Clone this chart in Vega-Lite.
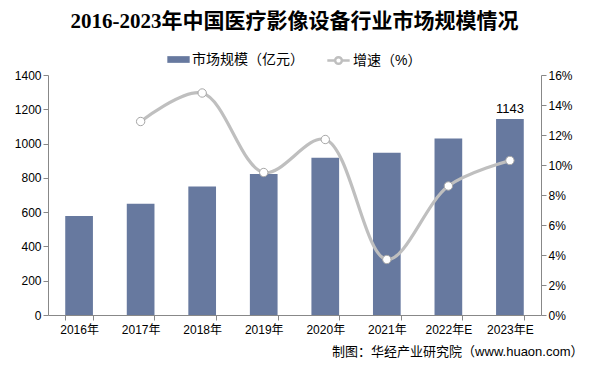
{
  "$schema": "https://vega.github.io/schema/vega-lite/v6.json",
  "width": 595,
  "height": 373,
  "autosize": {"type": "fit", "contains": "padding"},
  "padding": {"left": 14, "right": 22, "top": 11, "bottom": 15},
  "background": "white",
  "config": {
    "view": {"stroke": null},
    "font": "Liberation Sans, Noto Sans CJK SC",
    "axis": {"labelFont": "Liberation Sans, Noto Sans CJK SC", "labelFontSize": 12, "labelColor": "#000000", "domainColor": "#888888", "tickColor": "#888888", "grid": false},
    "legend": {"layout": {"top": {"anchor": "middle", "direction": "horizontal", "margin": 22}}}
  },
  "title": {
    "text": "2016-2023年中国医疗影像设备行业市场规模情况",
    "font": "Liberation Serif, Noto Sans CJK SC",
    "fontSize": 21,
    "fontWeight": "bold",
    "color": "#000000",
    "anchor": "middle",
    "offset": 16
  },
  "data": {
    "values": [
      {"year": "2016年", "value": 578, "growth": null},
      {"year": "2017年", "value": 649, "growth": 0.129},
      {"year": "2018年", "value": 750, "growth": 0.148},
      {"year": "2019年", "value": 822, "growth": 0.095},
      {"year": "2020年", "value": 917, "growth": 0.117},
      {"year": "2021年", "value": 947, "growth": 0.037},
      {"year": "2022年E", "value": 1030, "growth": 0.086},
      {"year": "2023年E", "value": 1143, "growth": 0.103}
    ]
  },
  "encoding": {
    "x": {
      "field": "year", "type": "nominal", "sort": null,
      "scale": {"paddingInner": 0.55, "paddingOuter": 0.28},
      "axis": {
        "labelAngle": 0, "tickBand": "extent", "labelPadding": 4,
        "title": "制图：华经产业研究院（www.huaon.com）",
        "titleFontSize": 13, "titleFontWeight": "normal", "titleColor": "#000000",
        "titleFont": "Liberation Sans, Noto Sans CJK SC",
        "titleAnchor": "end", "titleAlign": "right", "titleX": 535, "titlePadding": 10
      }
    }
  },
  "layer": [
    {
      "mark": {"type": "bar", "color": "#67799F"},
      "encoding": {
        "y": {"field": "value", "type": "quantitative", "scale": {"domain": [0, 1400]},
              "axis": {"values": [0, 200, 400, 600, 800, 1000, 1200, 1400], "format": "d", "title": null, "orient": "left"}},
        "fill": {"datum": "市场规模（亿元）", "type": "nominal",
                 "scale": {"range": ["#67799F"]},
                 "legend": {"orient": "top", "title": null, "labelFontSize": 14, "symbolType": "M-1,-0.3H1V0.3H-1Z", "symbolSize": 500, "symbolStrokeWidth": 0, "labelColor": "#000000", "offset": 6, "labelOffset": 2}}
      }
    },
    {
      "transform": [{"filter": "datum.year === '2023年E'"}],
      "mark": {"type": "text", "dy": -10, "fontSize": 13, "color": "#000000"},
      "encoding": {
        "y": {"field": "value", "type": "quantitative", "scale": {"domain": [0, 1400]}, "axis": null},
        "text": {"field": "value", "type": "quantitative"}
      }
    },
    {
      "mark": {"type": "line", "interpolate": "catmull-rom", "strokeWidth": 3.2, "color": "#BFBFBF"},
      "encoding": {
        "y": {"field": "growth", "type": "quantitative", "scale": {"domain": [0, 0.16]},
              "axis": {"orient": "right", "format": ".0%", "values": [0, 0.02, 0.04, 0.06, 0.08, 0.1, 0.12, 0.14, 0.16], "title": null}},
        "stroke": {"datum": "增速（%）", "type": "nominal", "scale": {"range": ["#BFBFBF"]},
                   "legend": {"orient": "top", "title": null, "labelFontSize": 14, "labelColor": "#000000", "labelOffset": 2,
                              "symbolType": "M-1,0H-0.32M0.32,0H1M0.3,0A0.3,0.3 0 1,1 -0.3,0A0.3,0.3 0 1,1 0.3,0", "symbolSize": 500, "symbolStrokeWidth": 2.5, "symbolFillColor": "white"}}
      }
    },
    {
      "mark": {"type": "point", "filled": true, "fill": "white", "stroke": "#A6A6A6", "strokeWidth": 1, "size": 70, "opacity": 1},
      "encoding": {
        "y": {"field": "growth", "type": "quantitative", "scale": {"domain": [0, 0.16]}, "axis": null}
      }
    }
  ],
  "resolve": {"scale": {"y": "independent", "fill": "independent", "stroke": "independent"}}
}
